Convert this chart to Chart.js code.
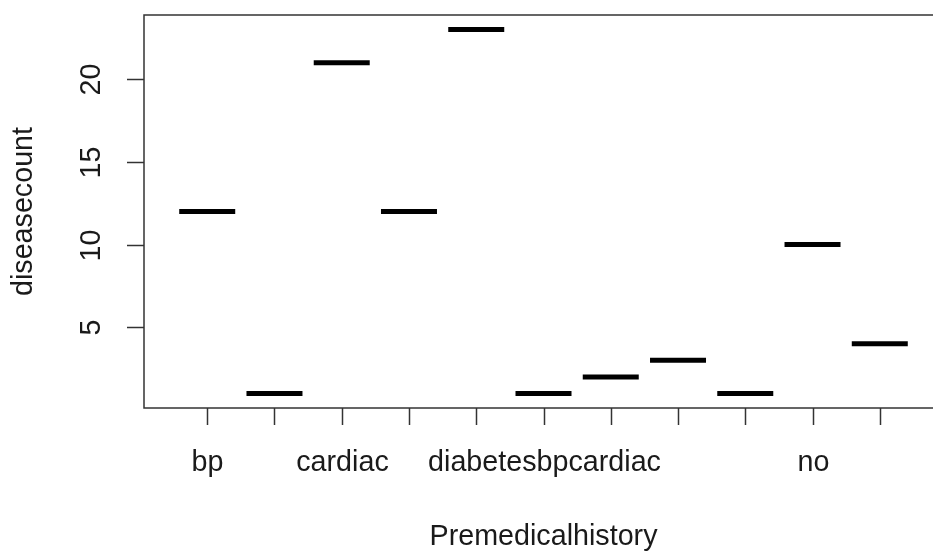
<!DOCTYPE html>
<html>
<head>
<meta charset="utf-8">
<script src="https://cdn.jsdelivr.net/npm/chart.js@4/dist/chart.umd.min.js"></script>
<style>
  html, body { margin: 0; padding: 0; background: #fff; overflow: hidden; }
  #wrap { width: 960px; height: 552px; position: relative; }
</style>
</head>
<body>
<div id="wrap"><canvas id="chart"></canvas></div>
<script>
// categories (only the labels R could fit are readable)
const categories = ['bp', '', 'cardiac', '', '', 'diabetesbpcardiac', '', '', '', 'no', ''];
const diseaseCounts = [12, 1, 21, 12, 23, 1, 2, 3, 1, 10, 4];
const yTicks = [5, 10, 15, 20];
const xTitle = 'Premedicalhistory';
const yTitle = 'diseasecount';

const FONT = '28.7px "Liberation Sans", Arial, sans-serif';
const INK = '#1a1a1a';

// axes, box and text drawn R-style
const rAxes = {
  id: 'rAxes',
  afterDraw(chart) {
    const { ctx, chartArea: a, scales: { x, y } } = chart;
    ctx.save();
    ctx.strokeStyle = '#333';
    ctx.lineWidth = 1.5;
    ctx.strokeRect(a.left, a.top, a.right - a.left, a.bottom - a.top);

    ctx.fillStyle = INK;
    ctx.font = FONT;
    ctx.textAlign = 'center';
    ctx.textBaseline = 'middle';

    // x ticks + labels
    categories.forEach((c, i) => {
      const px = Math.round(x.getPixelForValue(i + 1)) + 0.5;
      ctx.beginPath();
      ctx.moveTo(px, a.bottom);
      ctx.lineTo(px, a.bottom + 17);
      ctx.stroke();
      if (c) ctx.fillText(c, px, 463);
    });

    // y ticks + rotated labels
    yTicks.forEach(v => {
      const py = Math.round(y.getPixelForValue(v)) + 0.5;
      ctx.beginPath();
      ctx.moveTo(a.left, py);
      ctx.lineTo(a.left - 17, py);
      ctx.stroke();
      ctx.save();
      ctx.translate(92, py);
      ctx.rotate(-Math.PI / 2);
      ctx.fillText(String(v), 0, 0);
      ctx.restore();
    });

    // titles
    ctx.fillText(xTitle, (a.left + a.right) / 2, 537);
    ctx.save();
    ctx.translate(24, (a.top + a.bottom) / 2);
    ctx.rotate(-Math.PI / 2);
    ctx.fillText(yTitle, 0, 0);
    ctx.restore();
    ctx.restore();
  }
};

new Chart(document.getElementById('chart'), {
  type: 'scatter',
  data: {
    datasets: [{
      data: diseaseCounts.map((v, i) => ({ x: i + 1, y: v })),
      pointStyle: 'line',
      pointRadius: 28,
      borderWidth: 5,
      borderColor: '#000',
      backgroundColor: '#000'
    }]
  },
  options: {
    responsive: true,
    maintainAspectRatio: false,
    animation: false,
    events: [],
    layout: { autoPadding: false, padding: { left: 144, top: 15, right: 17, bottom: 144 } },
    plugins: { legend: { display: false }, tooltip: { enabled: false } },
    scales: {
      x: { type: 'linear', min: 0.06, max: 11.94, display: false },
      y: { type: 'linear', min: 0.12, max: 23.88, display: false }
    }
  },
  plugins: [rAxes]
});
</script>
</body>
</html>
